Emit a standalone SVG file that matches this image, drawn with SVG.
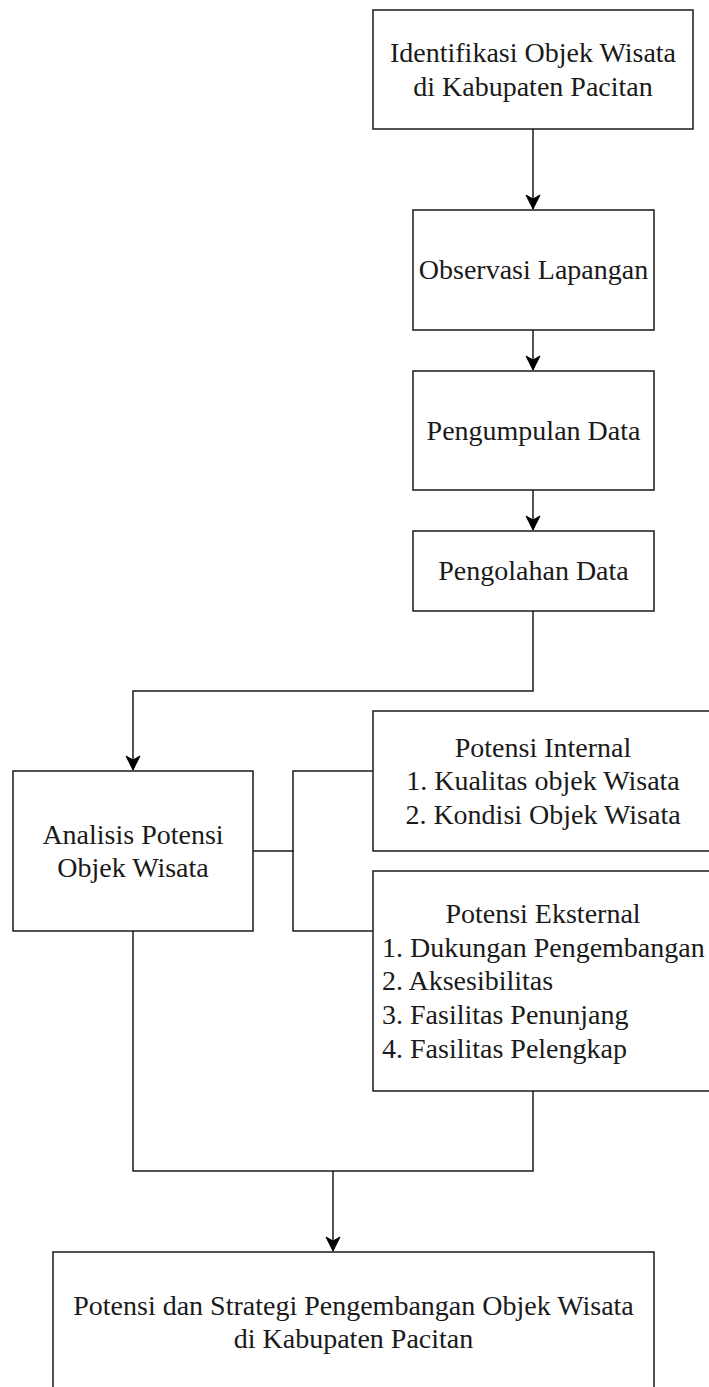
<svg xmlns="http://www.w3.org/2000/svg" width="709" height="1387" viewBox="0 0 709 1387">
  <style>
    .box { fill: #ffffff; stroke: #1a1a1a; stroke-width: 1.5; }
    .lbl { font-family: "Liberation Serif", "Times New Roman", serif; font-size: 28px; fill: #1a1a1a; }
    .c { text-anchor: middle; }
    .edge { fill: none; stroke: #1a1a1a; stroke-width: 1.5; }
  </style>
  <defs>
    <marker id="arrow" markerUnits="userSpaceOnUse" markerWidth="16" markerHeight="16" viewBox="-15 -8 16 16" refX="0" refY="0" orient="auto">
      <path d="M0,0 L-14,-7 L-10,0 L-14,7 Z" fill="#000000" stroke="#000000" stroke-width="1"/>
    </marker>
  </defs>
  <rect width="709" height="1387" fill="#ffffff"/>

  <g id="connectors">
    <path class="edge" d="M533,129 V209" marker-end="url(#arrow)"/>
    <path class="edge" d="M533,330 V370" marker-end="url(#arrow)"/>
    <path class="edge" d="M533,490 V530" marker-end="url(#arrow)"/>
    <path class="edge" d="M533,611 V691 H133 V770" marker-end="url(#arrow)"/>
    <path class="edge" d="M253,851 H293 V771 H373"/>
    <path class="edge" d="M293,851 V931 H373"/>
    <path class="edge" d="M133,931 V1171 H533 V1091"/>
    <path class="edge" d="M333,1171 V1251" marker-end="url(#arrow)"/>
  </g>

  <g id="node-identifikasi">
    <rect class="box" x="373" y="10" width="320" height="119"/>
    <text class="lbl c" x="533" y="62">Identifikasi Objek Wisata</text>
    <text class="lbl c" x="533" y="96">di Kabupaten Pacitan</text>
  </g>

  <g id="node-observasi">
    <rect class="box" x="413" y="210" width="241" height="120"/>
    <text class="lbl c" x="533.5" y="279">Observasi Lapangan</text>
  </g>

  <g id="node-pengumpulan">
    <rect class="box" x="413" y="371" width="241" height="119"/>
    <text class="lbl c" x="533.5" y="440">Pengumpulan Data</text>
  </g>

  <g id="node-pengolahan">
    <rect class="box" x="413" y="531" width="241" height="80"/>
    <text class="lbl c" x="533.5" y="580">Pengolahan Data</text>
  </g>

  <g id="node-analisis">
    <rect class="box" x="13" y="771" width="240" height="160"/>
    <text class="lbl c" x="133" y="844">Analisis Potensi</text>
    <text class="lbl c" x="133" y="877">Objek Wisata</text>
  </g>

  <g id="node-internal">
    <rect class="box" x="373" y="711" width="340" height="140"/>
    <text class="lbl c" x="543" y="757">Potensi Internal</text>
    <text class="lbl c" x="543" y="790">1. Kualitas objek Wisata</text>
    <text class="lbl c" x="543" y="824">2. Kondisi Objek Wisata</text>
  </g>

  <g id="node-eksternal">
    <rect class="box" x="373" y="871" width="340" height="220"/>
    <text class="lbl c" x="543" y="923">Potensi Eksternal</text>
    <text class="lbl" x="382" y="957">1. Dukungan Pengembangan</text>
    <text class="lbl" x="382" y="990">2. Aksesibilitas</text>
    <text class="lbl" x="382" y="1024">3. Fasilitas Penunjang</text>
    <text class="lbl" x="382" y="1058">4. Fasilitas Pelengkap</text>
  </g>

  <g id="node-hasil">
    <rect class="box" x="53" y="1252" width="601" height="140"/>
    <text class="lbl c" x="353.5" y="1315">Potensi dan Strategi Pengembangan Objek Wisata</text>
    <text class="lbl c" x="353.5" y="1348">di Kabupaten Pacitan</text>
  </g>
</svg>
